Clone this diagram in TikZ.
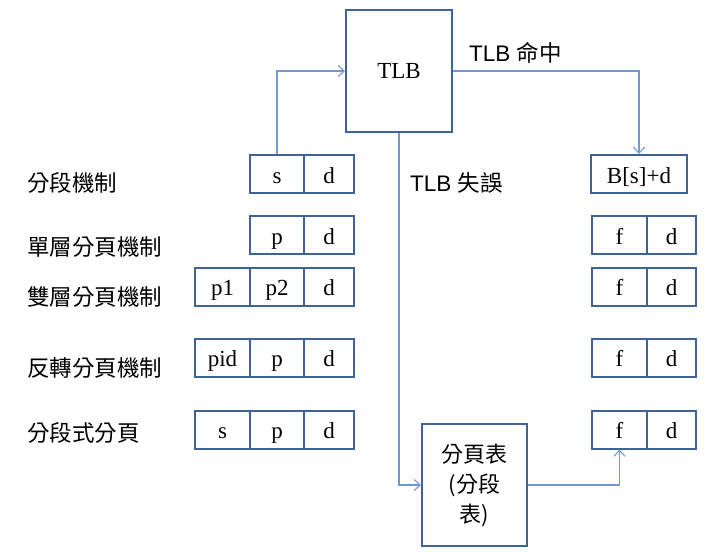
\documentclass[tikz,border=0pt]{standalone}
\usepackage{fontspec}
\setmainfont{Liberation Serif}
\newfontfamily\cjkf{Noto Sans CJK TC}
\newfontfamily\lsans{Liberation Sans}
\usetikzlibrary{arrows.meta}
\definecolor{boxblue}{RGB}{62,100,150}
\definecolor{arrblue}{RGB}{112,152,212}
\begin{document}
\begin{tikzpicture}[x=1pt,y=-1pt,
  cell/.style={draw=boxblue,line width=2pt,inner sep=0pt,minimum height=38pt,
    text height=22pt,text depth=4pt,
    font=\fontsize{23}{23}\selectfont},
  lbl/.style={anchor=west,inner sep=0pt,font=\cjkf\fontsize{22.5}{24}\selectfont},
  arr/.style={draw=arrblue,line width=1.1pt,-{Straight Barb[length=6pt,width=11pt]}}]
\useasboundingbox (0,0) rectangle (704,552);
% TLB
\node[draw=boxblue,line width=2pt,inner sep=0pt,minimum width=106pt,minimum height=122pt,
  font=\fontsize{23}{23}\selectfont] (tlb) at (399,71) {TLB};
% page table
\node[draw=boxblue,line width=2pt,inner sep=0pt,minimum width=105pt,minimum height=122pt,align=center,
  font=\cjkf\fontsize{22}{30}\selectfont] (pt) at (474.5,485) {分頁表\\(分段\\表)};
% labels
\node[lbl] (l1) at (27,183) {分段機制};
\node[lbl] (l2) at (27,247) {單層分頁機制};
\node[lbl] (l3) at (27,297) {雙層分頁機制};
\node[lbl] (l4) at (27,368) {反轉分頁機制};
\node[lbl] (l5) at (27,433) {分段式分頁};
\node[lbl,font=\lsans\fontsize{22.5}{24}\selectfont] (hit) at (469,53) {TLB \cjkf 命中};
\node[lbl,font=\lsans\fontsize{22.5}{24}\selectfont] (miss) at (410,183) {TLB \cjkf 失誤};
% row 1
\node[cell,minimum width=54pt] (s1) at (277,174) {s};
\node[cell,minimum width=50pt] (d1) at (329,174) {d};
% row 2
\node[cell,minimum width=54pt] (p2) at (277,235) {p};
\node[cell,minimum width=50pt] (d2) at (329,235) {d};
% row 3
\node[cell,minimum width=55pt] (a3) at (222.5,286.5) {p1};
\node[cell,minimum width=54pt] (b3) at (277,286.5) {p2};
\node[cell,minimum width=50pt] (d3) at (329,286.5) {d};
% row 4
\node[cell,minimum width=55pt] (a4) at (222.5,357.5) {pid};
\node[cell,minimum width=54pt] (b4) at (277,357.5) {p};
\node[cell,minimum width=50pt] (d4) at (329,357.5) {d};
% row 5
\node[cell,minimum width=55pt] (a5) at (222.5,429.5) {s};
\node[cell,minimum width=54pt] (b5) at (277,429.5) {p};
\node[cell,minimum width=50pt] (d5) at (329,429.5) {d};
% right side
\node[cell,minimum width=96pt] (bsd) at (639,174) {B[s]+d};
\node[cell,minimum width=55pt] (f2) at (619.5,235) {f};
\node[cell,minimum width=49pt] (e2) at (671.5,235) {d};
\node[cell,minimum width=55pt] (f3) at (619.5,286.5) {f};
\node[cell,minimum width=49pt] (e3) at (671.5,286.5) {d};
\node[cell,minimum width=55pt] (f4) at (619.5,357.5) {f};
\node[cell,minimum width=49pt] (e4) at (671.5,357.5) {d};
\node[cell,minimum width=55pt] (f5) at (619.5,429.5) {f};
\node[cell,minimum width=49pt] (e5) at (671.5,429.5) {d};
% connectors
\draw[arr] (s1.north) |- (tlb.west);
\draw[arr] (tlb.east) -| (bsd.north);
\draw[arr] (tlb.south) |- (pt.west);
\draw[arr] (pt.east) -| (f5.south);
\end{tikzpicture}
\end{document}
